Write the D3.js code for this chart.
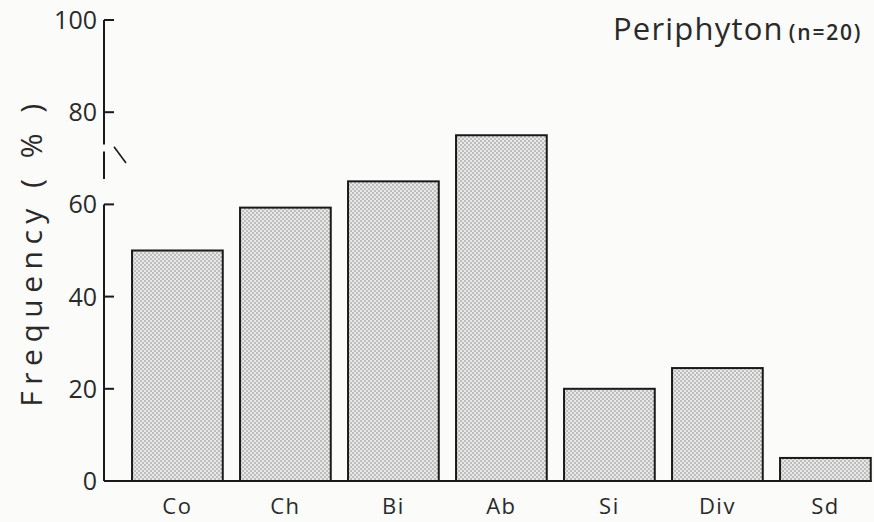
<!DOCTYPE html>
<html><head><meta charset="utf-8">
<script src="https://cdn.jsdelivr.net/npm/d3@7"></script>
<style>
body{margin:0;background:#fbfbfa;}
svg{display:block;}
text{font-family:"Open Sans","DejaVu Sans",sans-serif;fill:#2a2a2a;}
</style></head>
<body>
<script>
const categories = ["Co","Ch","Bi","Ab","Si","Div","Sd"];
const values = [50, 59.3, 65, 75, 20, 24.5, 5];
const yTicks = [0, 20, 40, 60, 80, 100];
const yTickLabels = ["0","20","40","60","80","100"];
const titleMain = "Periphyton";
const titleSub = "(n=20)";
const yTitle = "Frequency ( % )";

const W = 874, H = 522;
const svg = d3.select("body").append("svg").attr("width", W).attr("height", H);
svg.append("rect").attr("width", W).attr("height", H).attr("fill", "#fbfbfa");

const defs = svg.append("defs");
const pat = defs.append("pattern").attr("id","dots").attr("patternUnits","userSpaceOnUse")
  .attr("width",4).attr("height",4);
pat.append("rect").attr("width",4).attr("height",4).attr("fill","#e9e9e9");
pat.append("circle").attr("cx",1).attr("cy",1).attr("r",0.8).attr("fill","#858585");
pat.append("circle").attr("cx",3).attr("cy",3).attr("r",0.8).attr("fill","#858585");

const x = d3.scaleBand().domain(categories).range([123.4, 879.4]).paddingInner(0.16).paddingOuter(0.08);
const y = d3.scaleLinear().domain([0, 100]).range([481, 20]);
const axisX0 = 104;

// bars
svg.selectAll("rect.bar").data(categories).enter().append("rect")
  .attr("class","bar")
  .attr("x", d => x(d))
  .attr("y", (d,i) => y(values[i]))
  .attr("width", x.bandwidth())
  .attr("height", (d,i) => y(0) - y(values[i]))
  .attr("fill","url(#dots)")
  .attr("stroke","#1a1a1a").attr("stroke-width",2);

// x axis baseline
svg.append("line").attr("x1", axisX0).attr("x2", x.range()[1] - 8).attr("y1", y(0)).attr("y2", y(0))
  .attr("stroke","#1a1a1a").attr("stroke-width",2);

// x labels
svg.selectAll("text.xl").data(categories).enter().append("text")
  .attr("class","xl")
  .attr("x", d => x(d) + x.bandwidth()/2)
  .attr("y", 514)
  .attr("text-anchor","middle")
  .attr("font-size", 22)
  .attr("letter-spacing", 1.5)
  .text(d => d);

// y axis with break
const yAxisSegs = [[100, 73], [71.5, 65.5], [60, 0]];
yAxisSegs.forEach(s => {
  svg.append("line").attr("x1", axisX0).attr("x2", axisX0)
    .attr("y1", y(s[0])).attr("y2", y(s[1]))
    .attr("stroke","#1a1a1a").attr("stroke-width",2);
});
// break mark
svg.append("line").attr("x1", axisX0 + 10).attr("x2", axisX0 + 22)
  .attr("y1", y(72.5)).attr("y2", y(69))
  .attr("stroke","#1a1a1a").attr("stroke-width",1.6);

// ticks
svg.selectAll("line.tk").data(yTicks).enter().append("line")
  .attr("class","tk")
  .attr("x1", axisX0).attr("x2", axisX0 + 10)
  .attr("y1", d => y(d)).attr("y2", d => y(d))
  .attr("stroke","#1a1a1a").attr("stroke-width",2);
svg.selectAll("text.yl").data(yTicks).enter().append("text")
  .attr("class","yl")
  .attr("x", axisX0 - 7)
  .attr("y", d => y(d) + 9)
  .attr("text-anchor","end")
  .attr("font-size", 25)
  .text((d,i) => yTickLabels[i]);

// y title
svg.append("text")
  .attr("transform", `translate(42, 252) rotate(-90)`)
  .attr("text-anchor","middle")
  .attr("font-size", 30)
  .attr("letter-spacing", 6.5)
  .text(yTitle);

// chart title
const t = svg.append("text").attr("x", 613).attr("y", 40).attr("font-size", 31).attr("letter-spacing", 1.2);
t.append("tspan").text(titleMain);
t.append("tspan").attr("font-size", 21).attr("font-weight", 600).attr("dx", 5).attr("letter-spacing", 1.8).text(titleSub);
</script>
</body></html>
